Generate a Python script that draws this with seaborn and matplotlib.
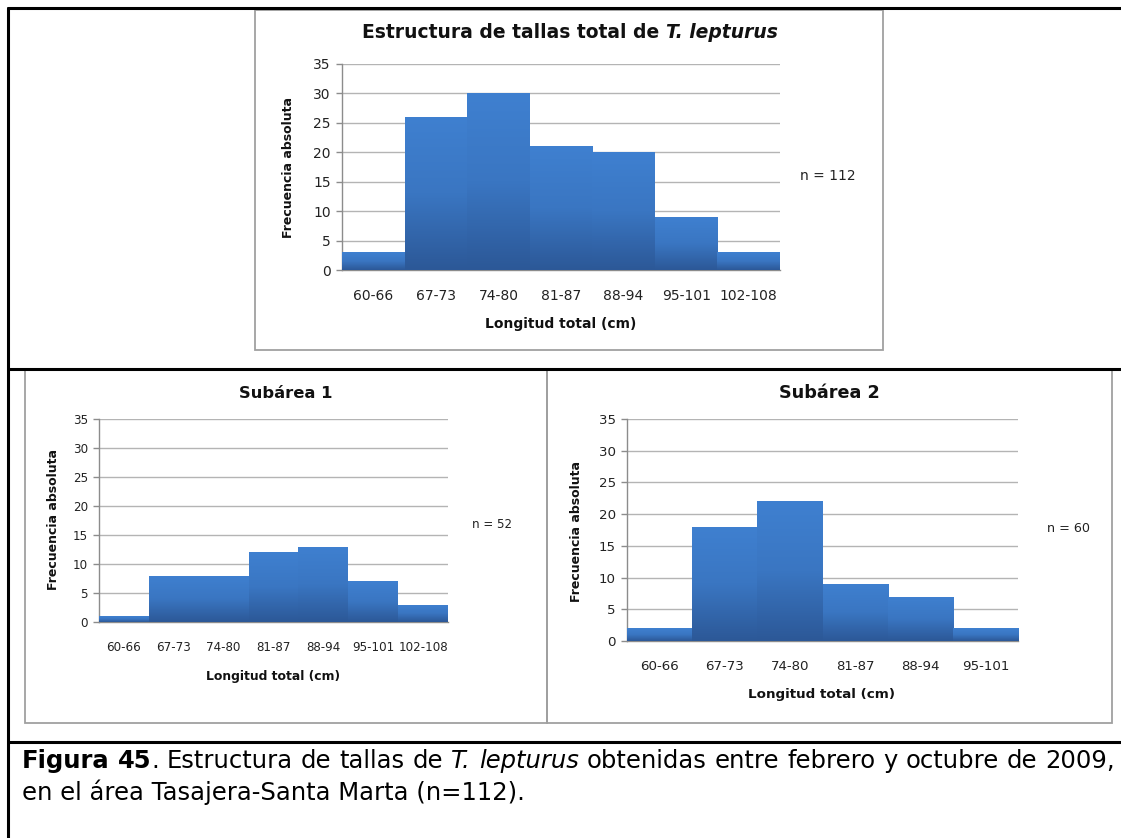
import numpy as np
import seaborn as sns
import matplotlib.pyplot as plt
from matplotlib.colors import LinearSegmentedColormap
from matplotlib.lines import Line2D
from matplotlib.patches import Rectangle

## Datos
clases_total = ['60-66', '67-73', '74-80', '81-87', '88-94', '95-101', '102-108']
frec_total = [3, 26, 30, 21, 20, 9, 3]
clases_sub1 = ['60-66', '67-73', '74-80', '81-87', '88-94', '95-101', '102-108']
frec_sub1 = [1, 8, 8, 12, 13, 7, 3]
clases_sub2 = ['60-66', '67-73', '74-80', '81-87', '88-94', '95-101']
frec_sub2 = [2, 18, 22, 9, 7, 2]

W, H = 1121, 838
sns.set_theme(style='white')
plt.rcParams['font.family'] = ['DejaVu Sans']

fig = plt.figure(figsize=(W / 100, H / 100), dpi=100)
rend = fig.canvas.get_renderer()

degradado = LinearSegmentedColormap.from_list('excel', ['#2c5897', '#3a76c2', '#3f80d0'])
GRIS_EJE = '#8c8c8c'
GRIS_GRID = '#b4b4b4'
TXT = '#111111'


def caja(x0, y0, x1, y1):
    # posiciones en pixeles (origen arriba-izquierda) -> fracciones de figura
    return [x0 / W, 1 - y1 / H, (x1 - x0) / W, (y1 - y0) / H]


def ftext(x, y, s, **kw):
    return fig.text(x / W, 1 - y / H, s, **kw)


def rich(x, y, partes, **kw):
    ## texto centrado con partes de distinto estilo (negrita / cursiva)
    ts = [ftext(0, y, s, **kw, **st) for s, st in partes]
    sp = ftext(0, y, 'x x', **kw)
    sp2 = ftext(0, y, 'xx', **kw)
    gap = sp.get_window_extent(rend).width - sp2.get_window_extent(rend).width
    sp.remove(); sp2.remove()
    ws = [t.get_window_extent(rend).width for t in ts]
    x0 = x - (sum(ws) + gap * (len(ts) - 1)) / 2
    for t, w in zip(ts, ws):
        t.set_x(x0 / W)
        x0 += w + gap


def histograma(rect, clases, frec, fs_tick):
    ax = fig.add_axes(caja(*rect))
    sns.barplot(x=clases, y=frec, ax=ax, width=1, color='#3a76c2',
                saturation=1, edgecolor='none', zorder=2)
    # degradado vertical de cada barra (estilo Excel)
    grad = np.linspace(0, 1, 256).reshape(-1, 1)
    for p in ax.patches:
        x0, w, h = p.get_x(), p.get_width(), p.get_height()
        im = ax.imshow(grad, extent=[x0, x0 + w, 0, h], origin='lower',
                       aspect='auto', cmap=degradado, zorder=3)
        im.set_clip_path(p)
    ax.set_xlim(-0.5, len(clases) - 0.5)
    ax.set_ylim(0, 35)
    ax.set_yticks(range(0, 36, 5))
    ax.yaxis.grid(True, color=GRIS_GRID, lw=1)
    ax.set_axisbelow(True)
    for s in ['top', 'right']:
        ax.spines[s].set_visible(False)
    for s in ['left', 'bottom']:
        ax.spines[s].set_color(GRIS_EJE)
        ax.spines[s].set_linewidth(1)
    ax.tick_params(axis='y', length=4, color=GRIS_EJE, width=1, pad=4,
                   labelsize=fs_tick, labelcolor='#222222', left=True)
    ax.tick_params(axis='x', length=0, pad=13.5, labelsize=fs_tick,
                   labelcolor='#222222')
    ax.set_xlabel('')
    ax.set_ylabel('')
    return ax


## Marco de la tabla
for (xa, ya, xb, yb) in [(8, 8, 1121, 8), (8, 8, 8, 838), (8, 369, 1121, 369), (8, 742, 1121, 742)]:
    fig.add_artist(Line2D([xa / W, xb / W], [1 - ya / H, 1 - yb / H], color='black', lw=2.2))
for (x0, y0, x1, y1) in [(255, 10, 883, 350), (25, 370, 547, 723), (547, 370, 1112, 723)]:
    fig.add_artist(Rectangle((x0 / W, 1 - y1 / H), (x1 - x0) / W, (y1 - y0) / H,
                             fill=False, edgecolor='#a0a0a0', lw=1.3))

## Grafico total
histograma((342, 64, 780, 270), clases_total, frec_total, 10)
rich(570, 33, [('Estructura de tallas total de', {'fontweight': 'bold'}),
               ('T. lepturus', {'fontweight': 'bold', 'fontstyle': 'italic'})],
     fontsize=13.5, va='center', color=TXT)
ftext(288, 167, 'Frecuencia absoluta', rotation=90, fontsize=9, fontweight='bold',
      ha='center', va='center', color=TXT)
ftext(561, 324, 'Longitud total (cm)', fontsize=10, fontweight='bold',
      ha='center', va='center', color=TXT)
ftext(800, 176, 'n = 112', fontsize=10, ha='left', va='center', color='#222222')

## Subarea 1
histograma((99, 419, 448, 622), clases_sub1, frec_sub1, 8.6)
ftext(286, 393, 'Subárea 1', fontsize=11.8, fontweight='bold', ha='center',
      va='center', color=TXT)
ftext(54, 520, 'Frecuencia absoluta', rotation=90, fontsize=9, fontweight='bold',
      ha='center', va='center', color=TXT)
ftext(273, 676, 'Longitud total (cm)', fontsize=8.9, fontweight='bold',
      ha='center', va='center', color=TXT)
ftext(472, 525, 'n = 52', fontsize=8.6, ha='left', va='center', color='#222222')

## Subarea 2
histograma((627, 419, 1018, 641), clases_sub2, frec_sub2, 9.6)
ftext(829, 393, 'Subárea 2', fontsize=12.7, fontweight='bold', ha='center',
      va='center', color=TXT)
ftext(577, 532, 'Frecuencia absoluta', rotation=90, fontsize=9, fontweight='bold',
      ha='center', va='center', color=TXT)
ftext(822, 694, 'Longitud total (cm)', fontsize=9.7, fontweight='bold',
      ha='center', va='center', color=TXT)
ftext(1047, 528, 'n = 60', fontsize=9.2, ha='left', va='center', color='#222222')

## Leyenda de la figura (primera linea justificada)
cap = {'fontsize': 17.5, 'va': 'baseline', 'color': 'black'}
B = {'fontweight': 'bold'}
I = {'fontstyle': 'italic'}
N = {}
palabras = [[('Figura', B)], [('45', B), ('.', N)], [('Estructura', N)], [('de', N)],
            [('tallas', N)], [('de', N)], [('T.', I)], [('lepturus', I)], [('obtenidas', N)],
            [('entre', N)], [('febrero', N)], [('y', N)], [('octubre', N)], [('de', N)],
            [('2009,', N)]]
x_ini, x_fin, y1 = 22, 1115, 768
piezas = []
for pal in palabras:
    ts = [ftext(0, y1, s, **cap, **st) for s, st in pal]
    ws = [t.get_window_extent(rend).width for t in ts]
    piezas.append((ts, ws))
ancho = sum(sum(ws) for _, ws in piezas)
hueco = (x_fin - x_ini - ancho) / (len(piezas) - 1)
x = x_ini
for ts, ws in piezas:
    for t, w in zip(ts, ws):
        t.set_x(x / W)
        x += w
    x += hueco
ftext(x_ini, 800, 'en el área Tasajera-Santa Marta (n=112).', **cap)

fig.savefig('out.png', dpi=100)
